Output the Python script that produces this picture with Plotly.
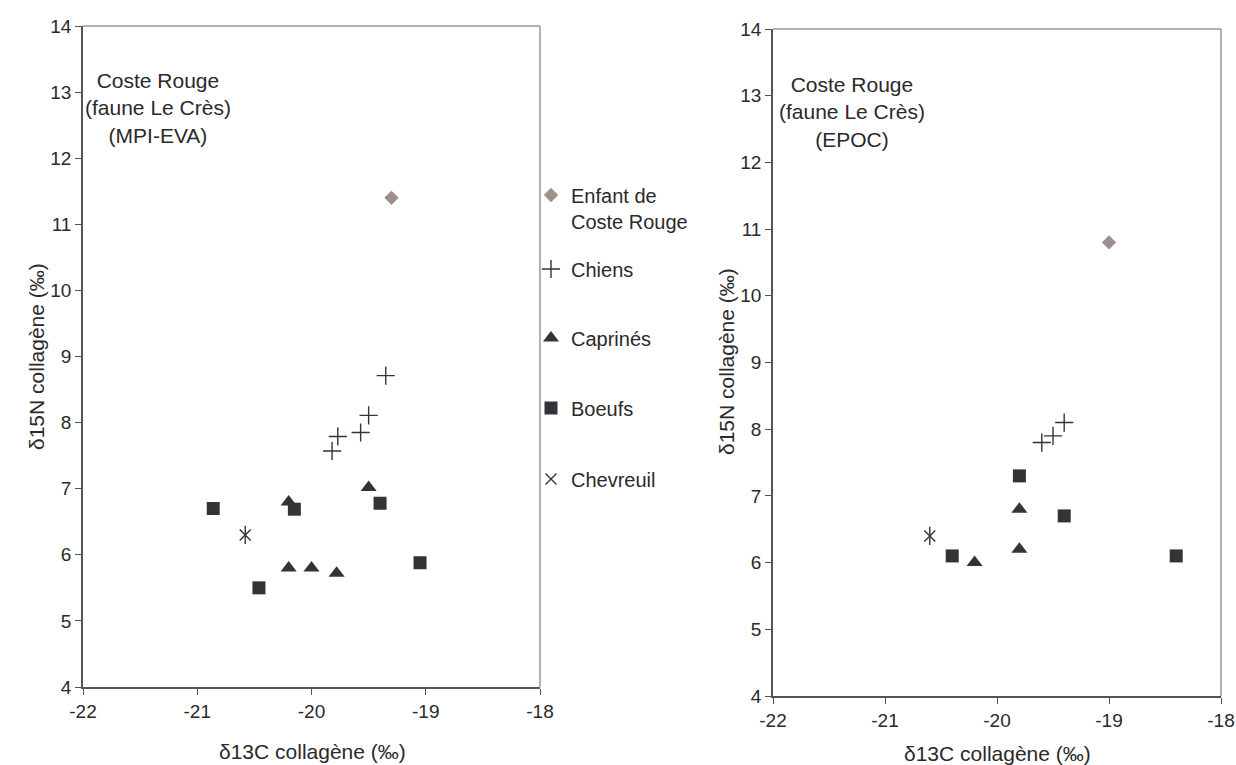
import plotly.graph_objects as go

# Left panel (MPI-EVA)
enfant_a = ([-19.3], [11.4])
chiens_a = ([-19.35, -19.5, -19.57, -19.77, -19.82], [8.71, 8.11, 7.85, 7.79, 7.57])
caprines_a = ([-20.2, -19.5, -20.2, -20.0, -19.78], [6.8, 7.02, 5.8, 5.8, 5.72])
boeufs_a = ([-20.86, -20.15, -19.4, -19.05, -20.46], [6.7, 6.69, 6.78, 5.88, 5.5])
chevreuil_a = ([-20.58], [6.3])

# Right panel (EPOC)
enfant_b = ([-19.0], [10.8])
chiens_b = ([-19.6, -19.5, -19.4], [7.8, 7.9, 8.1])
caprines_b = ([-20.2, -19.8, -19.8], [6.0, 6.8, 6.2])
boeufs_b = ([-20.4, -19.8, -19.4, -18.4], [6.1, 7.3, 6.7, 6.1])
chevreuil_b = ([-20.6], [6.4])

x_ticks = [-22, -21, -20, -19, -18]
y_ticks = list(range(4, 15))

W, H = 1236, 765
dark = "#333338"
txt = "#2a2a2a"
font = "Liberation Sans, Arial, sans-serif"

fig = go.Figure()

def add_panel(xa, ya, enfant, chiens, caprines, boeufs, chevreuil, legend):
    kw = dict(xaxis=xa, yaxis=ya, mode="markers")
    fig.add_trace(go.Scatter(x=enfant[0], y=enfant[1], name="Enfant de<br>Coste Rouge",
                             marker=dict(symbol="diamond", size=11, color="#9c8f8c"),
                             showlegend=legend, legend="legend", **kw))
    fig.add_trace(go.Scatter(x=chiens[0], y=chiens[1], name="Chiens",
                             marker=dict(symbol="cross-thin", size=13, line=dict(color=dark, width=1.4)),
                             showlegend=legend, legend="legend2", **kw))
    fig.add_trace(go.Scatter(x=caprines[0], y=caprines[1], name="Caprinés",
                             marker=dict(symbol="triangle-up", size=14, color=dark),
                             showlegend=legend, legend="legend3", **kw))
    fig.add_trace(go.Scatter(x=boeufs[0], y=boeufs[1], name="Boeufs",
                             marker=dict(symbol="square", size=13, color=dark),
                             showlegend=legend, legend="legend4", **kw))
    fig.add_trace(go.Scatter(x=chevreuil[0], y=chevreuil[1], name="Chevreuil",
                             marker=dict(symbol="x-thin", size=11, line=dict(color=dark, width=1.4)),
                             showlegend=legend, legend="legend5", **kw))
    fig.add_trace(go.Scatter(x=chevreuil[0], y=chevreuil[1], name="Chevreuil",
                             marker=dict(symbol="line-ns", size=13, line=dict(color=dark, width=1.4)),
                             showlegend=False, **kw))

add_panel("x", "y", enfant_a, chiens_a, caprines_a, boeufs_a, chevreuil_a, True)
add_panel("x2", "y2", enfant_b, chiens_b, caprines_b, boeufs_b, chevreuil_b, False)

axis_common = dict(showline=True, linecolor="#555", linewidth=1.5, ticks="outside", ticklen=6,
                   tickcolor="#555", showgrid=False, zeroline=False, automargin=False,
                   tickfont=dict(size=19, color=txt))
xt = dict(range=[-22, -18], tickvals=x_ticks, ticktext=[str(v) for v in x_ticks], **axis_common)
yt = dict(range=[4, 14], tickvals=y_ticks, ticktext=[str(v) for v in y_ticks], **axis_common)

def px(x, y):
    # screen pixel -> paper coords
    return x / W, 1 - y / H

def leg(ypx):
    return dict(x=px(531, 0)[0], y=px(0, ypx)[1], xanchor="left", yanchor="middle", valign="top",
                font=dict(size=20, color=txt), itemwidth=30, bgcolor="rgba(0,0,0,0)")

def title(text, x, y, angle=0):
    xp, yp = px(x, y)
    return dict(text=text, xref="paper", yref="paper", x=xp, y=yp, xanchor="center",
                yanchor="middle", showarrow=False, textangle=angle,
                font=dict(size=21, color=txt))

x0l, x1l = px(83, 0)[0], px(540, 0)[0]
y0l, y1l = px(0, 687)[1], px(0, 26)[1]
x0r, x1r = px(773, 0)[0], px(1221, 0)[0]
y0r, y1r = px(0, 696)[1], px(0, 29)[1]

fig.update_layout(
    width=W, height=H,
    margin=dict(l=0, r=0, t=0, b=0),
    paper_bgcolor="white", plot_bgcolor="white",
    font=dict(family=font, size=19, color=txt),
    xaxis=dict(domain=[x0l, x1l], anchor="y", **xt),
    yaxis=dict(domain=[y0l, y1l], anchor="x", **yt),
    xaxis2=dict(domain=[x0r, x1r], anchor="y2", **xt),
    yaxis2=dict(domain=[y0r, y1r], anchor="x2", **yt),
    legend=leg(208),
    legend2=leg(269),
    legend3=leg(338),
    legend4=leg(408),
    legend5=leg(479),
    annotations=[
        dict(text="Coste Rouge<br>(faune Le Crès)<br>(MPI-EVA)", xref="paper", yref="paper",
             x=px(158, 0)[0], y=px(0, 108)[1], xanchor="center", yanchor="middle",
             showarrow=False, font=dict(size=21, color=txt)),
        dict(text="Coste Rouge<br>(faune Le Crès)<br>(EPOC)", xref="paper", yref="paper",
             x=px(852, 0)[0], y=px(0, 112)[1], xanchor="center", yanchor="middle",
             showarrow=False, font=dict(size=21, color=txt)),
        title("δ13C collagène (‰)", 312, 751),
        title("δ13C collagène (‰)", 997, 753),
        title("δ15N collagène (‰)", 36, 357, -90),
        title("δ15N collagène (‰)", 726, 362, -90),
    ],
    shapes=[
        dict(type="line", xref="x domain", yref="y domain", x0=0, x1=1, y0=1, y1=1,
             line=dict(color="#a39493", width=1.5)),
        dict(type="line", xref="x domain", yref="y domain", x0=1, x1=1, y0=0, y1=1,
             line=dict(color="#a39493", width=1.5)),
        dict(type="line", xref="x2 domain", yref="y2 domain", x0=0, x1=1, y0=1, y1=1,
             line=dict(color="#a39493", width=1.5)),
        dict(type="line", xref="x2 domain", yref="y2 domain", x0=1, x1=1, y0=0, y1=1,
             line=dict(color="#a39493", width=1.5)),
    ],
)

fig.write_html("out.html", config={"displayModeBar": False},
               post_script="document.body.style.margin='0px';document.body.style.overflow='hidden';")
